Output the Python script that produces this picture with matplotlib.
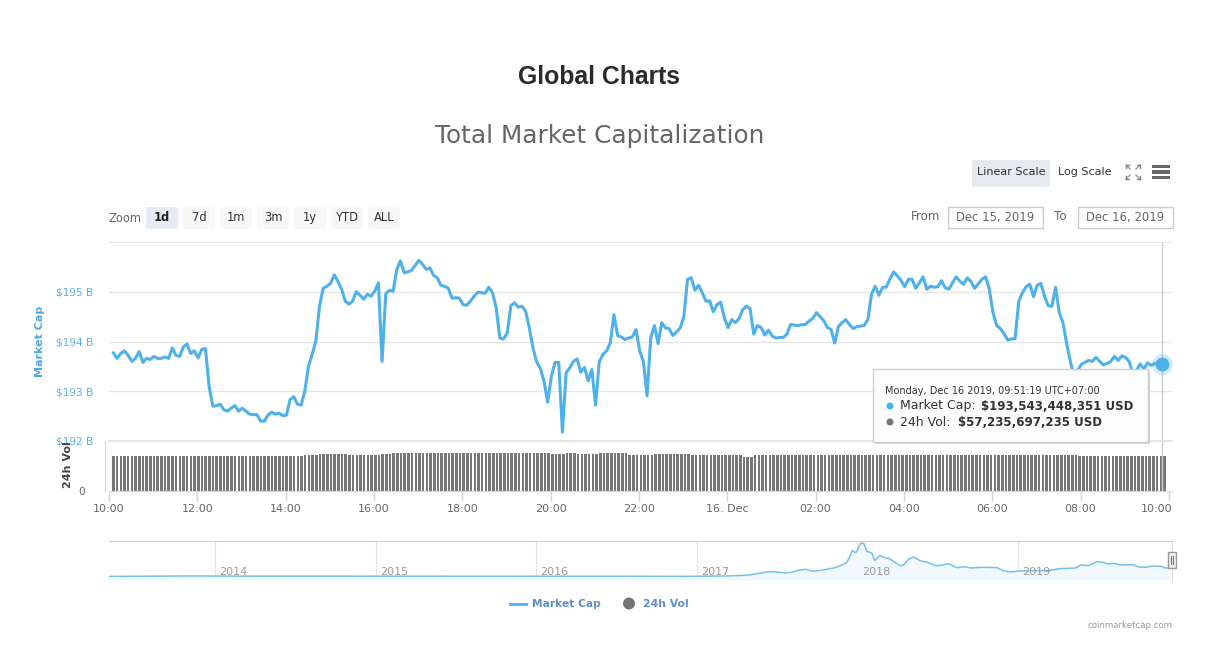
import numpy as np
import matplotlib
matplotlib.use("Agg")
import matplotlib.pyplot as plt
from matplotlib.patches import Rectangle, FancyBboxPatch, Circle
from matplotlib.transforms import ScaledTranslation

W, H = 1209, 649

# market cap in billions, one value about every 5 minutes
market_cap = [
    193.77, 193.66, 193.76, 193.81, 193.72, 193.60, 193.66, 193.80, 193.58, 193.66, 193.64, 193.70,
    193.66, 193.66, 193.69, 193.66, 193.87, 193.72, 193.70, 193.89, 193.95, 193.76, 193.81, 193.67,
    193.84, 193.86, 193.10, 192.70, 192.71, 192.74, 192.63, 192.60, 192.66, 192.71, 192.60, 192.66,
    192.60, 192.54, 192.53, 192.53, 192.40, 192.40, 192.52, 192.58, 192.54, 192.56, 192.51, 192.52,
    192.83, 192.89, 192.74, 192.72, 193.00, 193.50, 193.74, 194.01, 194.71, 195.07, 195.11, 195.17,
    195.34, 195.21, 195.05, 194.81, 194.75, 194.81, 195.00, 194.93, 194.85, 194.95, 194.91, 195.01,
    195.18, 193.60, 194.96, 195.03, 195.01, 195.45, 195.62, 195.38, 195.40, 195.43, 195.53, 195.63,
    195.55, 195.45, 195.48, 195.33, 195.28, 195.13, 195.11, 195.07, 194.87, 194.88, 194.87,
    194.74, 194.73, 194.81, 194.91, 194.99, 194.98, 194.97, 195.09, 194.98, 194.68, 194.07, 194.05,
    194.17, 194.72, 194.78, 194.69, 194.71, 194.61, 194.28, 193.87, 193.59, 193.46, 193.20, 192.78,
    193.30, 193.58, 193.58, 192.18, 193.37, 193.47, 193.60, 193.65, 193.38, 193.48, 193.21, 193.44,
    192.72, 193.59, 193.74, 193.81, 193.97, 194.54, 194.12, 194.09, 194.04, 194.07, 194.09, 194.24,
    193.81, 193.60, 192.91, 194.07, 194.32, 193.96, 194.38, 194.27, 194.26, 194.12, 194.19, 194.27,
    194.50, 195.25, 195.28, 195.03, 195.13, 194.98, 194.81, 194.82, 194.60, 194.74, 194.79, 194.48,
    194.28, 194.44, 194.38, 194.46, 194.64, 194.71, 194.66, 194.15, 194.32, 194.28, 194.13, 194.23,
    194.11, 194.07, 194.08, 194.08, 194.15, 194.34, 194.33, 194.32, 194.34, 194.34, 194.41, 194.46,
    194.58, 194.50, 194.42, 194.28, 194.24, 193.97, 194.30, 194.38, 194.44, 194.34, 194.26, 194.30,
    194.31, 194.32, 194.44, 194.95, 195.11, 194.93, 195.09, 195.09, 195.26, 195.40, 195.32, 195.23,
    195.10, 195.25, 195.25, 195.07, 195.18, 195.30, 195.05, 195.11, 195.09, 195.10, 195.22, 195.08,
    195.05, 195.18, 195.30, 195.21, 195.15, 195.28, 195.21, 195.07, 195.16, 195.25, 195.30, 195.05,
    194.58, 194.32, 194.26, 194.16, 194.03, 194.05, 194.06, 194.81, 194.98, 195.10, 195.15, 194.90,
    195.13, 195.17, 194.91, 194.72, 194.71, 195.09, 194.58, 194.38, 193.97, 193.60, 193.32, 193.42,
    193.54, 193.58, 193.62, 193.60, 193.68, 193.60, 193.53, 193.56, 193.60, 193.70, 193.62, 193.71,
    193.68, 193.60, 193.35, 193.42, 193.55, 193.45, 193.57, 193.52, 193.56, 193.57, 193.54,
]

# 24h volume in billions, long runs of nearly equal bars
volume = ([57.2] * 52 + [58.8] * 4 + [60.4] * 8 + [58.8] * 9 + [59.9] * 3 + [62.0] * 43
          + [59.5] * 4 + [61.0] * 3 + [59.5] * 6 + [62.0] * 8 + [58.8] * 7 + [60.4] * 10
          + [58.8] * 14 + [55.6] * 3 + [58.8] * 88 + [56.1] * 4 + [57.2] * 20)

time_labels = ["10:00", "12:00", "14:00", "16:00", "18:00", "20:00", "22:00", "16. Dec",
               "02:00", "04:00", "06:00", "08:00", "10:00"]
time_ticks = [0, 2, 4, 6, 8, 10, 12, 14, 16, 18, 20, 22, 24]
first_hour, last_hour = 0.10, 23.85

cap_ticks = [192, 193, 194, 195]
cap_labels = ["$192 B", "$193 B", "$194 B", "$195 B"]

# overview chart, whole history
nav_years = [2013.33, 2013.89, 2014.0, 2014.58, 2016.0, 2016.96, 2017.17, 2017.31, 2017.38, 2017.45,
             2017.50, 2017.55, 2017.59, 2017.63, 2017.68, 2017.72, 2017.76, 2017.81, 2017.87, 2017.93,
             2017.95, 2017.97, 2017.99, 2018.00, 2018.02, 2018.04, 2018.06, 2018.09, 2018.11, 2018.14,
             2018.16, 2018.20, 2018.23, 2018.27, 2018.29, 2018.32, 2018.35, 2018.39, 2018.43, 2018.49,
             2018.52, 2018.57, 2018.62, 2018.67, 2018.71, 2018.78, 2018.87, 2018.91, 2018.96, 2019.00,
             2019.13, 2019.19, 2019.26, 2019.36, 2019.39, 2019.44, 2019.49, 2019.53, 2019.56, 2019.60,
             2019.64, 2019.72, 2019.75, 2019.79, 2019.84, 2019.89, 2019.92, 2019.95]
nav_cap = [2, 14, 10, 8, 7, 4, 12, 29, 70, 120,
           112, 87, 103, 153, 178, 128, 145, 178, 227, 335,
           459, 649, 591, 641, 823, 823, 624, 583, 393, 525,
           476, 442, 360, 269, 294, 434, 484, 393, 360, 269,
           277, 318, 219, 244, 211, 227, 219, 145, 112, 136,
           145, 145, 194, 211, 285, 269, 368, 351, 310, 327,
           285, 294, 236, 227, 260, 252, 211, 211]
nav_ticks = [2014, 2015, 2016, 2017, 2018, 2019]

zoom_buttons = ["1d", "7d", "1m", "3m", "1y", "YTD", "ALL"]

BLUE = "#4fb1ea"
GREY = "#777777"
TICK = "#666666"
FONT = "DejaVu Sans"
plt.rcParams["font.family"] = FONT


def px_axes(fig, left, top, right, bottom):
    return fig.add_axes([left / W, 1 - bottom / H, (right - left) / W, (bottom - top) / H])


fig = plt.figure(figsize=(W / 100, H / 100), dpi=100, facecolor="white")

# main price chart
ax = px_axes(fig, 109, 242, 1172, 441)
cap_x = np.linspace(first_hour, last_hour, len(market_cap))
ax.plot(cap_x, market_cap, color=BLUE, lw=2.2, solid_joinstyle="round", zorder=3)
ax.set_xlim(0, 24.07)
ax.set_ylim(192, 196)
ax.set_yticks(cap_ticks)
ax.set_yticklabels(cap_labels, color="#5aaeea", fontsize=7.6)
ax.set_xticks([])
ax.tick_params(axis="y", length=0, pad=11)
ax.grid(axis="y", color="#e6e6e6", lw=1)
ax.set_axisbelow(True)
for s in ax.spines.values():
    s.set_visible(False)
ax.spines["top"].set_visible(True)
ax.spines["top"].set_color("#e6e6e6")
ax.spines["bottom"].set_visible(True)
ax.spines["bottom"].set_color("#e6e6e6")
ax.spines["bottom"].set_linewidth(1.5)
ax.axvline(last_hour, color="#cccccc", lw=1, zorder=2)
ax.plot(last_hour, market_cap[-1], "o", ms=15, color=BLUE, alpha=0.25, mec="none", zorder=4, clip_on=False)
ax.plot(last_hour, market_cap[-1], "o", ms=10, color=BLUE, mec="none", zorder=5, clip_on=False)

# volume bars
vax = px_axes(fig, 109, 441, 1172, 491)
vol_x = np.linspace(first_hour, 23.9, len(volume))
vax.bar(vol_x, volume, width=0.058, color=GREY)
vax.axvline(last_hour, color="#cccccc", lw=1, zorder=1)
vax.set_xlim(0, 24.07)
vax.set_ylim(0, 81)
vax.set_yticks([0])
vax.set_yticklabels(["0"])
vax.set_xticks(time_ticks)
vax.set_xticklabels(time_labels)
vax.tick_params(axis="x", length=7, width=1, color="#ccd6eb", pad=2, labelcolor=TICK, labelsize=8)
vax.tick_params(axis="y", length=0, pad=14, labelcolor=TICK, labelsize=7.6)
# last label sits left of its tick, like the original
last_label = vax.get_xticklabels()[-1]
last_label.set_ha("right")
last_label.set_transform(last_label.get_transform() + ScaledTranslation(2.5 / 72, 0, fig.dpi_scale_trans))
vax.patch.set_alpha(0)
for s in ["top", "right"]:
    vax.spines[s].set_visible(False)
vax.spines["left"].set_color("#ccd6eb")
vax.spines["left"].set_position(("outward", 3))
vax.spines["bottom"].set_color("#ccd6eb")

# overview navigator
nav = px_axes(fig, 109, 541, 1172, 580)
nav.fill_between(nav_years, nav_cap, -87, color="#f1f9fe", lw=0)
nav.plot(nav_years, nav_cap, color="#74c0ef", lw=1.1)
nav.set_xlim(2013.34, 2019.96)
nav.set_ylim(-87, 880)
nav.set_yticks([])
nav.set_xticks(nav_ticks)
nav.set_xticklabels([])
nav.tick_params(axis="x", length=0)
nav.grid(axis="x", color="#e6e6e6", lw=1)
nav.set_axisbelow(True)
for s in nav.spines.values():
    s.set_visible(False)
nav.spines["top"].set_visible(True)
nav.spines["top"].set_color("#cccccc")
nav.spines["right"].set_visible(True)
nav.spines["right"].set_color("#dddddd")
for yr in nav_ticks:
    nav.annotate(str(yr), (yr, 112), xytext=(3.2, 0), textcoords="offset points", color="#999999",
                 fontsize=8, va="center", ha="left", zorder=4)

# page furniture, drawn in pixel coordinates
ui = fig.add_axes([0, 0, 1, 1], zorder=10)
ui.set_xlim(0, W)
ui.set_ylim(H, 0)
ui.axis("off")
ui.patch.set_alpha(0)

ui.text(599, 77, "Global Charts", fontsize=17.8, fontweight="bold", family="Liberation Sans",
        color="#2b2b2b", ha="center", va="center")
ui.text(600, 136, "Total Market Capitalization", fontsize=17.8, color="#666666", ha="center", va="center")
ui.text(40, 341, "Market Cap", rotation=90, color="#4fa8e6", fontsize=8, fontweight="bold", ha="center", va="center")
ui.text(68, 465, "24h Vol", rotation=90, color="#444444", fontsize=8, fontweight="bold", ha="center", va="center")


def button(x0, x1, y0, y1, face):
    ui.add_patch(FancyBboxPatch((x0 + 2, y0 + 2), x1 - x0 - 4, y1 - y0 - 4,
                                boxstyle="round,pad=2,rounding_size=2", fc=face, ec="none"))


button(972, 1050, 160, 187, "#e6e9ed")
ui.text(1011, 172, "Linear Scale", fontsize=8, color="#333333", ha="center", va="center")
ui.text(1085, 172, "Log Scale", fontsize=8, color="#333333", ha="center", va="center")

# fullscreen icon
for sx, sy in [(-1, -1), (1, -1), (-1, 1), (1, 1)]:
    ui.plot([1133 + sx * 3, 1133 + sx * 7], [172 + sy * 3, 172 + sy * 7], color="#999999", lw=1)
    ui.plot([1133 + sx * 7, 1133 + sx * 4], [172 + sy * 7, 172 + sy * 7], color="#888888", lw=1)
    ui.plot([1133 + sx * 7, 1133 + sx * 7], [172 + sy * 7, 172 + sy * 4], color="#888888", lw=1)
# menu icon
for y in [166.5, 172, 177.5]:
    ui.add_patch(Rectangle((1152, y - 1.7), 17.5, 3.4, fc="#666666", ec="none"))

ui.text(108.5, 218, "Zoom", fontsize=8.3, color="#666666", ha="left", va="center")
bx = 146
for i, lab in enumerate(zoom_buttons):
    button(bx, bx + 32, 207, 229, "#e6ebf5" if i == 0 else "#f7f7f7")
    ui.text(bx + 16, 217.5, lab, fontsize=8.3, color="#222222" if i == 0 else "#333333",
            fontweight="bold" if i == 0 else "normal", ha="center", va="center")
    bx += 37

ui.text(911, 217, "From", fontsize=8.6, color="#666666", ha="left", va="center")
ui.text(1054, 217, "To", fontsize=8.6, color="#666666", ha="left", va="center")
for x0, lab in [(948, "Dec 15, 2019"), (1078, "Dec 16, 2019")]:
    ui.add_patch(Rectangle((x0, 207), 95, 21, fc="white", ec="#cccccc", lw=1))
    ui.text(x0 + 47.5, 217, lab, fontsize=8.4, color="#666666", ha="center", va="center")

# navigator handle
ui.add_patch(Rectangle((1167.5, 552), 8, 15.5, fc="#f2f2f2", ec="#999999", lw=1))
ui.plot([1170.5, 1170.5], [556, 564], color="#777777", lw=0.8)
ui.plot([1172.5, 1172.5], [556, 564], color="#777777", lw=0.8)

# legend
ui.plot([510, 526], [603.5, 603.5], color=BLUE, lw=2)
ui.text(532, 604, "Market Cap", fontsize=7.7, fontweight="bold", color="#5f8fc8", ha="left", va="center")
ui.add_patch(Circle((629, 603.5), 6, fc="#757575", ec="none"))
ui.text(643, 604, "24h Vol", fontsize=7.8, fontweight="bold", color="#5f8fc8", ha="left", va="center")
ui.text(1172, 626, "coinmarketcap.com", fontsize=6.2, color="#999999", ha="right", va="center")

# tooltip
ui.add_patch(Rectangle((875, 371), 275, 73, fc="#bbbbbb", ec="none", alpha=0.6))
ui.add_patch(Rectangle((873, 369), 275, 73, fc="white", ec="#cccccc", lw=1, alpha=0.96))
ui.text(885, 390.5, "Monday, Dec 16 2019, 09:51:19 UTC+07:00", fontsize=7.05, color="#333333", ha="left", va="center")
ui.add_patch(Circle((890, 406), 3.5, fc=BLUE, ec="none"))
ui.text(900, 406, "Market Cap:", fontsize=9, color="#333333", ha="left", va="center")
ui.text(981, 406, "$193,543,448,351 USD", fontsize=8.5, fontweight="bold", color="#333333", ha="left", va="center")
ui.add_patch(Circle((890, 422), 3.5, fc=GREY, ec="none"))
ui.text(900, 422, "24h Vol:", fontsize=9, color="#333333", ha="left", va="center")
ui.text(958, 422, "$57,235,697,235 USD", fontsize=8.5, fontweight="bold", color="#333333", ha="left", va="center")

fig.savefig("out.png", dpi=100)
